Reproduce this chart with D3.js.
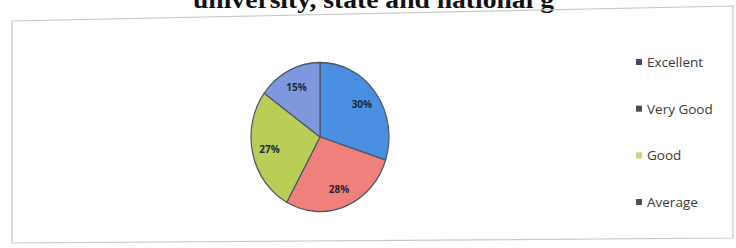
<!DOCTYPE html>
<html>
<head>
<meta charset="utf-8">
<script src="https://cdn.jsdelivr.net/npm/d3@7"></script>
<style>
  html, body { margin: 0; padding: 0; background: #fff; }
  svg { display: block; }
</style>
</head>
<body>
<svg id="chart" width="736" height="248"></svg>
<script>
const categories = ["Excellent", "Very Good", "Good", "Average"];
const values = [30, 28, 27, 15];
const labels = ["30%", "28%", "27%", "15%"];
const colors = ["#4a8fe2", "#ef807b", "#b9cd57", "#7e97dd"];
const legendColors = ["#3a4a6a", "#4a4a5a", "#c9d27a", "#4e4e5e"];
const titleText = "university, state and national g";

const svg = d3.select("#chart");

// title (cropped at top, as in the scanned reference)
svg.append("text")
  .attr("x", 193).attr("y", 8)
  .attr("font-family", "Liberation Serif, Times New Roman, serif")
  .attr("font-weight", "bold")
  .attr("font-size", 25)
  .attr("textLength", 361)
  .attr("lengthAdjust", "spacingAndGlyphs")
  .attr("fill", "#111")
  .text(titleText);

// chart frame (slightly skewed like a scan)
svg.append("path")
  .attr("d", "M12,21 L733,6 L733,238 L12,243 Z")
  .attr("fill", "none")
  .attr("stroke", "#c8c8c8")
  .attr("stroke-width", 1.2);

const cx = 320, cy = 137, R = 69, sy = 1.08;
const g = svg.append("g").attr("transform", `translate(${cx},${cy}) scale(1,${sy})`);

const pie = d3.pie().sort(null).value(d => d)(values);
const arc = d3.arc().innerRadius(0).outerRadius(R);
const labelArc = d3.arc().innerRadius(R * 0.5).outerRadius(R);

g.selectAll("path.slice")
  .data(pie)
  .join("path")
  .attr("class", "slice")
  .attr("d", arc)
  .attr("fill", (d, i) => colors[i])
  .attr("stroke", "#4d5566")
  .attr("stroke-width", 1.2);

svg.selectAll("text.lbl")
  .data(pie)
  .join("text")
  .attr("class", "lbl")
  .attr("x", d => cx + labelArc.centroid(d)[0])
  .attr("y", d => cy + labelArc.centroid(d)[1] * sy)
  .attr("text-anchor", "middle")
  .attr("dominant-baseline", "central")
  .attr("font-family", "Open Sans, sans-serif")
  .attr("font-size", 10)
  .attr("font-weight", "bold")
  .attr("fill", "#1d2a3a")
  .text((d, i) => labels[i]);

// legend
const legendY = d3.scalePoint().domain(categories).range([62, 202]);
const lg = svg.append("g");
lg.selectAll("rect")
  .data(categories)
  .join("rect")
  .attr("x", 636)
  .attr("y", d => legendY(d) - 3)
  .attr("width", 6).attr("height", 6)
  .attr("fill", (d, i) => legendColors[i]);
lg.selectAll("text")
  .data(categories)
  .join("text")
  .attr("x", 647)
  .attr("y", d => legendY(d))
  .attr("dominant-baseline", "central")
  .attr("font-family", "Open Sans, sans-serif")
  .attr("font-size", 13.5)
  .attr("fill", "#3a3a3a")
  .text(d => d);
</script>
</body>
</html>
